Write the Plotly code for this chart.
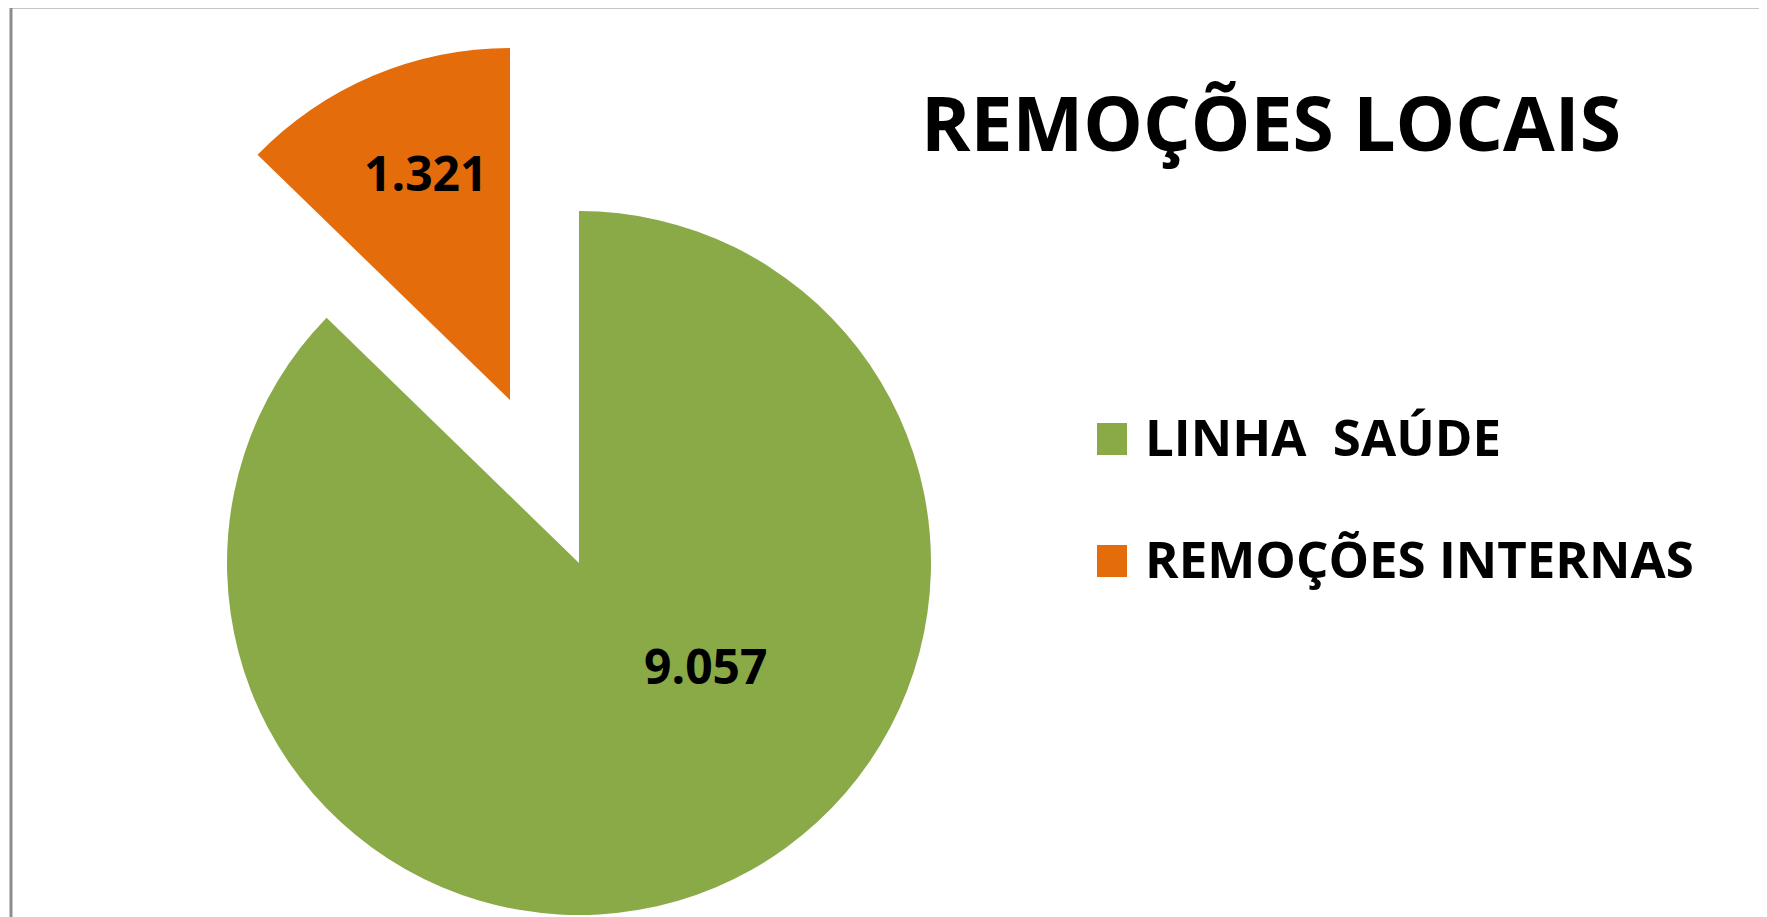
import plotly.graph_objects as go

# ---- data ----
categories = ["LINHA  SAÚDE", "REMOÇÕES INTERNAS"]
values = [9057, 1321]
colors = ["#8AAA48", "#E46C0A"]
title_text = "REMOÇÕES LOCAIS"

OFF = 8  # default page body margin
W, H = 1767 - OFF, 917 - OFF
FONT = "Open Sans"


def fmt(v):
    return f"{v:,}".replace(",", ".")


def px_x(x):
    return (x - OFF) / W


def px_y(y):
    return 1 - (y - OFF) / H


def dom(cx, cy, r):
    return dict(x=[px_x(cx - r), px_x(cx + r)], y=[px_y(cy + r), px_y(cy - r)])


R = 352
main_c = (579, 563)
pulled_c = (510, 400)

fig = go.Figure()
# main pie: green slice shown, orange slice hidden (it is drawn exploded by the second trace)
fig.add_trace(go.Pie(
    labels=categories, values=values, sort=False, direction="clockwise", rotation=0,
    marker=dict(colors=[colors[0], "rgba(0,0,0,0)"], line=dict(width=0)),
    textinfo="none", hoverinfo="label+value", showlegend=False,
    domain=dom(main_c[0], main_c[1], R),
))
# exploded slice
fig.add_trace(go.Pie(
    labels=categories, values=values, sort=False, direction="clockwise", rotation=0,
    marker=dict(colors=["rgba(0,0,0,0)", colors[1]], line=dict(width=0)),
    textinfo="none", hoverinfo="label+value", showlegend=False,
    domain=dom(pulled_c[0], pulled_c[1], R),
))

annotations = []
# data labels
label_pos = [(705, 665), (425, 173)]
for v, (x, y) in zip(values, label_pos):
    annotations.append(dict(
        x=px_x(x), y=px_y(y), xref="paper", yref="paper", showarrow=False,
        text=fmt(v), font=dict(family=FONT, size=48, color="black", weight="bold"),
        xanchor="center", yanchor="middle",
    ))
# title
annotations.append(dict(
    x=px_x(1271), y=px_y(122), xref="paper", yref="paper", showarrow=False,
    text=title_text, font=dict(family=FONT, size=75, color="black", weight="bold"),
    xanchor="center", yanchor="middle",
))

shapes = []
# legend (manual, to get large swatches)
leg_y = [439, 561]
for cat, col, y in zip(categories, colors, leg_y):
    shapes.append(dict(type="rect", xref="paper", yref="paper",
                       x0=px_x(1097), x1=px_x(1127), y0=px_y(y + 16), y1=px_y(y - 16),
                       fillcolor=col, line=dict(width=0)))
    annotations.append(dict(
        x=px_x(1143), y=px_y(y - 3), xref="paper", yref="paper", showarrow=False,
        text=cat.replace(" ", "\u00a0"), font=dict(family=FONT, size=51, color="black", weight="bold"),
        xanchor="left", yanchor="middle",
    ))

# chart border
shapes.append(dict(type="rect", xref="paper", yref="paper",
                   x0=px_x(11), x1=1.02, y0=-0.02, y1=px_y(7),
                   line=dict(color="#8C8C8C", width=3), fillcolor="rgba(0,0,0,0)"))

fig.update_layout(
    width=W, height=H, autosize=False,
    margin=dict(l=0, r=0, t=0, b=0),
    paper_bgcolor="white", plot_bgcolor="white",
    annotations=annotations, shapes=shapes,
    showlegend=False,
)

fig.write_html("out.html")
